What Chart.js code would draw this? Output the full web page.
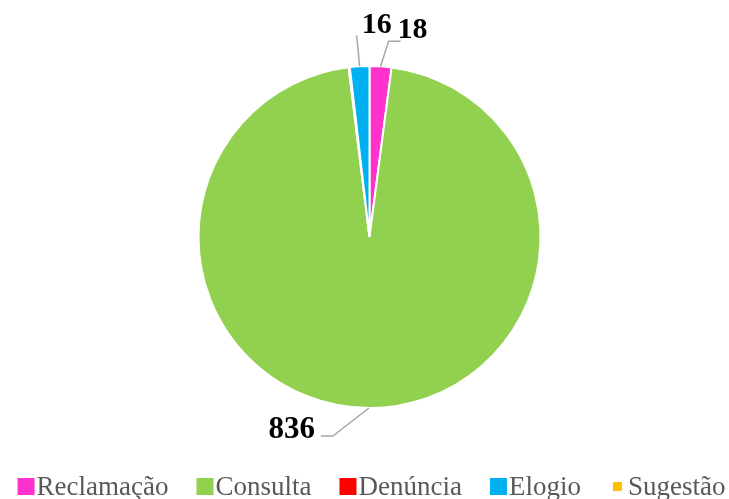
<!DOCTYPE html>
<html>
<head>
<meta charset="utf-8">
<script src="https://cdn.jsdelivr.net/npm/chart.js@4.4.1/dist/chart.umd.min.js"></script>
<style>
  html, body { margin: 0; padding: 0; background: #fff; }
  #wrap { width: 729px; height: 499px; }
</style>
</head>
<body>
<div id="wrap"><canvas id="pie" width="729" height="499"></canvas></div>
<script>
const categories = ['Reclamação', 'Consulta', 'Denúncia', 'Elogio', 'Sugestão'];
const values = [18, 836, 1, 16, 0];
const colors = ['#FF33CC', '#92D050', '#FF0000', '#00B0F0', '#FFC000'];
// which slices get a value label
const labeled = [0, 1, 3];

// leader line elbow + text placement, relative to the slice's outer edge point
const labelLayout = {
    0: { elbow: [8, -25], end: [20, -25], text: [17, -28], align: 'left', size: 30 },
    1: { elbow: [-36, 28], end: [-48, 28], text: [-54, 30], align: 'right', size: 31 },
    3: { elbow: [-3, -31], end: [-3, -31], text: [17, -33], align: 'center', size: 30 },
};

const sliceLabels = {
    id: 'sliceLabels',
    afterDatasetsDraw(chart) {
        const ctx = chart.ctx;
        const meta = chart.getDatasetMeta(0);
        ctx.save();
        labeled.forEach((i) => {
            const arc = meta.data[i];
            const mid = (arc.startAngle + arc.endAngle) / 2;
            const ax = arc.x + Math.cos(mid) * arc.outerRadius;
            const ay = arc.y + Math.sin(mid) * arc.outerRadius;
            const lay = labelLayout[i];
            ctx.strokeStyle = '#A6A6A6';
            ctx.lineWidth = 1.5;
            ctx.beginPath();
            ctx.moveTo(ax, ay);
            ctx.lineTo(ax + lay.elbow[0], ay + lay.elbow[1]);
            ctx.lineTo(ax + lay.end[0], ay + lay.end[1]);
            ctx.stroke();
            ctx.fillStyle = '#000';
            ctx.font = 'bold ' + lay.size + 'px "Liberation Serif", "Times New Roman", serif';
            ctx.textAlign = lay.align;
            ctx.textBaseline = 'alphabetic';
            ctx.fillText(String(values[i]), ax + lay.text[0], ay + lay.text[1]);
        });
        ctx.restore();
    }
};

// bottom legend: tight square + text, zero-value entry gets a smaller square
const bottomLegend = {
    id: 'bottomLegend',
    afterDraw(chart) {
        const ctx = chart.ctx;
        const box = 17, gapText = 2, gapItem = 28, cy = 486.5;
        ctx.save();
        ctx.font = '27px "Liberation Serif", "Times New Roman", serif';
        const widths = categories.map((c) => ctx.measureText(c).width);
        let total = 0;
        widths.forEach((w) => { total += box + gapText + w; });
        total += gapItem * (categories.length - 1);
        let x = 371.5 - total / 2;
        categories.forEach((name, i) => {
            const s = values[i] === 0 ? 9 : box;
            ctx.fillStyle = colors[i];
            ctx.fillRect(x + (box - s) / 2, cy - s / 2, s, s);
            ctx.fillStyle = '#595959';
            ctx.textAlign = 'left';
            ctx.textBaseline = 'middle';
            ctx.fillText(name, x + box + gapText, cy + 1);
            x += box + gapText + widths[i] + gapItem;
        });
        ctx.restore();
    }
};

new Chart(document.getElementById('pie'), {
    type: 'pie',
    data: {
        labels: categories,
        datasets: [{
            data: values,
            backgroundColor: colors,
            borderColor: '#FFFFFF',
            borderWidth: 2,
        }],
    },
    options: {
        responsive: false,
        animation: false,
        radius: 171,
        layout: { padding: { top: 50, bottom: 75, left: 10, right: 0 } },
        plugins: {
            tooltip: { enabled: false },
            legend: { display: false },
        },
    },
    plugins: [sliceLabels, bottomLegend],
});
</script>
</body>
</html>
